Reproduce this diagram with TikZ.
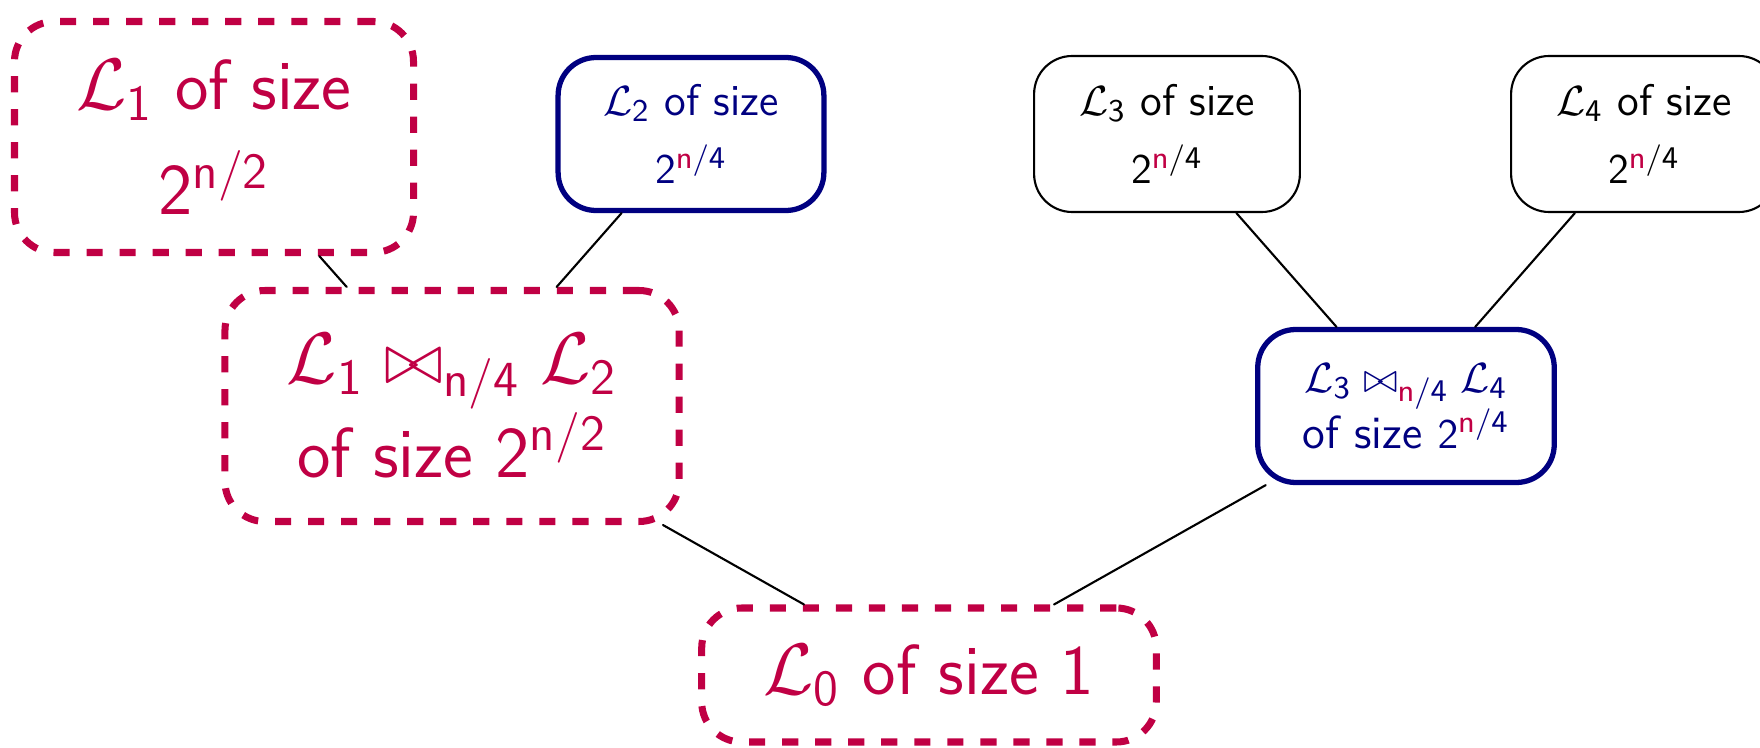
\documentclass[tikz,border=0pt]{standalone}
\definecolor{crimson}{RGB}{192,0,68}
\definecolor{navyblue}{RGB}{0,0,128}
\newcommand{\nn}{\textcolor{crimson}{\mathsf{n}}}

\begin{document}
\begin{tikzpicture}[line cap=round,line join=round,
  redbox/.style={draw=crimson,text=crimson,line width=2pt,line cap=butt,
    dash pattern=on 4.6pt off 4.8pt,rounded corners=0.4cm,align=center,
    font=\sffamily\fontsize{20.2}{25}\selectfont,inner xsep=0.62cm,minimum height=2.31cm},
  bluebox/.style={draw=navyblue,text=navyblue,line width=1.5pt,rounded corners=0.38cm,
    align=center,font=\sffamily\fontsize{12.6}{15.5}\selectfont,inner xsep=0.45cm,minimum height=1.53cm},
  plainbox/.style={draw,line width=0.6pt,rounded corners=0.38cm,align=center,
    font=\sffamily\fontsize{12.6}{15.5}\selectfont,inner xsep=0.45cm,minimum height=1.56cm}]
  \useasboundingbox (0,0) rectangle (17.6,7.47);
  % leaves
  \node[redbox] (l1) at (2.14,6.10) {$\mathcal{L}_{\mathsf{1}}$ of size\\[5pt] $\mathsf{2}^{\mathsf{n}/\mathsf{2}}$};
  \node[bluebox] (l2) at (6.91,6.13) {$\mathcal{L}_{\mathsf{2}}$ of size\\[4pt] $\mathsf{2}^{\nn/\mathsf{4}}$};
  \node[plainbox] (l3) at (11.67,6.13) {$\mathcal{L}_{\mathsf{3}}$ of size\\[4pt] $\mathsf{2}^{\nn/\mathsf{4}}$};
  \node[plainbox] (l4) at (16.44,6.13) {$\mathcal{L}_{\mathsf{4}}$ of size\\[4pt] $\mathsf{2}^{\nn/\mathsf{4}}$};
  % joins
  \node[redbox] (l12) at (4.52,3.41) {$\mathcal{L}_{\mathsf{1}} \bowtie_{\mathsf{n}/\mathsf{4}} \mathcal{L}_{\mathsf{2}}$\\ of size $\mathsf{2}^{\mathsf{n}/\mathsf{2}}$};
  \node[bluebox,font=\sffamily\fontsize{13.2}{16}\selectfont] (l34) at (14.06,3.41) {$\mathcal{L}_{\mathsf{3}} \bowtie_{\nn/\mathsf{4}} \mathcal{L}_{\mathsf{4}}$\\ of size $\mathsf{2}^{\nn/\mathsf{4}}$};
  \node[redbox,minimum height=1.34cm] (l0) at (9.29,0.72) {$\mathcal{L}_{\mathsf{0}}$ of size 1};
  \foreach \a/\b in {l0/l12,l0/l34,l12/l1,l12/l2,l34/l3,l34/l4}
    \draw[line width=0.6pt] (\a) -- (\b);
\end{tikzpicture}
\end{document}
